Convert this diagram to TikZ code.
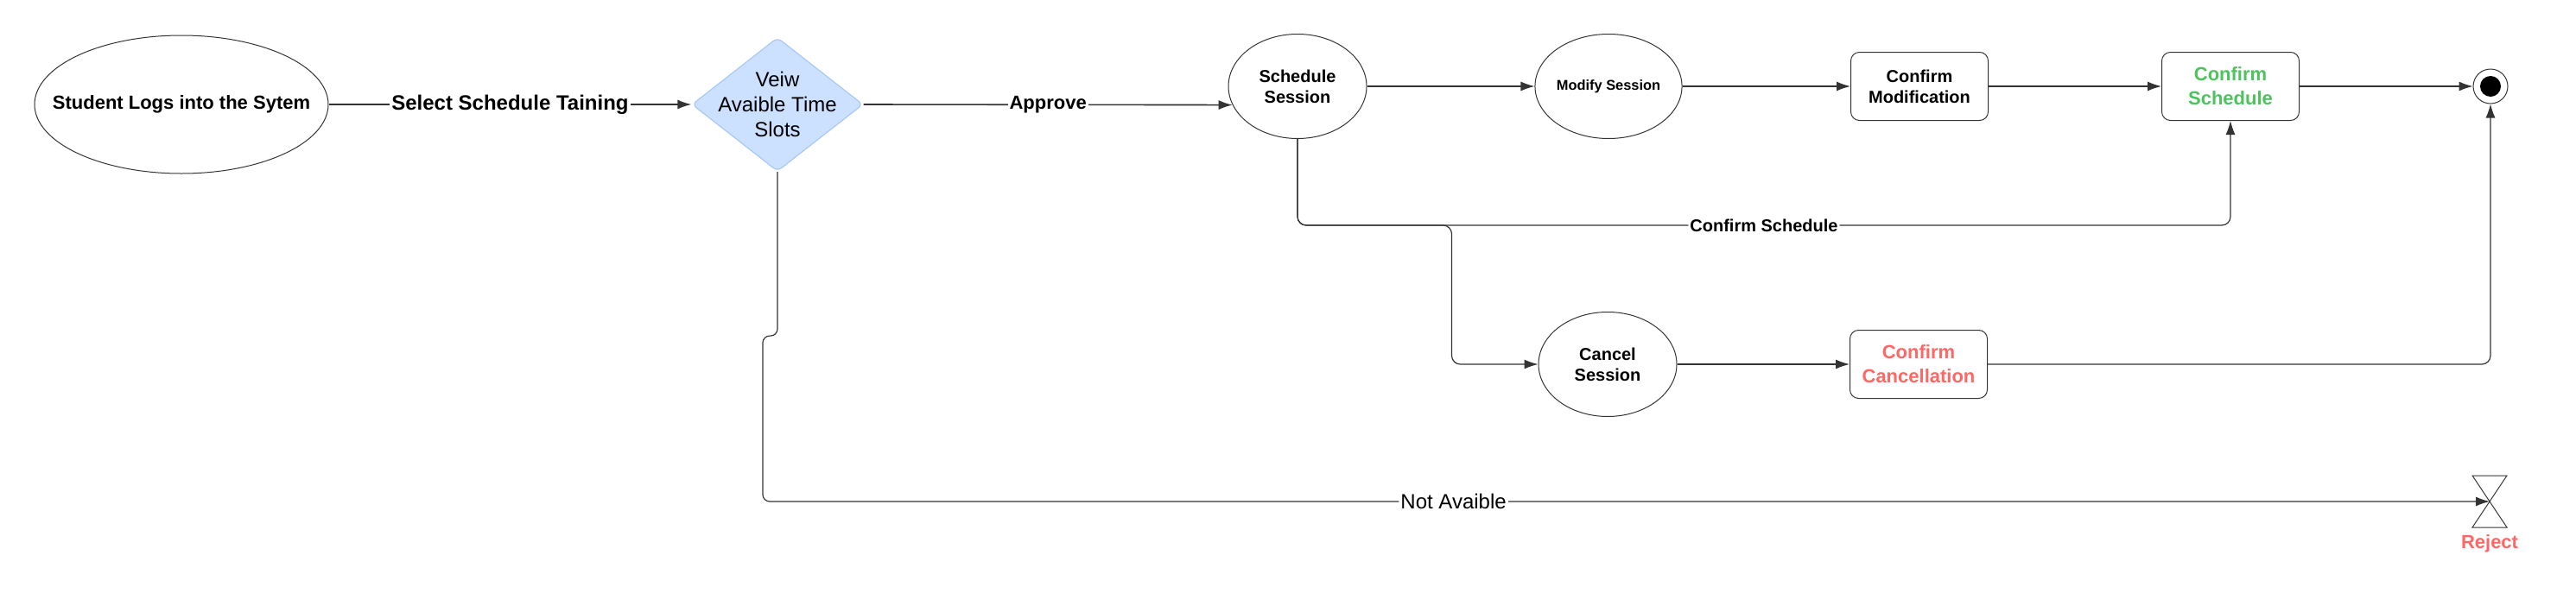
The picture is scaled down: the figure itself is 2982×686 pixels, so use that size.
\documentclass[tikz,border=0pt]{standalone}
\usepackage{fontspec}
\setmainfont{Liberation Sans}
\usetikzlibrary{shapes,arrows.meta,calc}
\definecolor{linegray}{HTML}{333333}
\definecolor{dmdfill}{HTML}{CCE0FF}
\definecolor{dmdline}{HTML}{A9C9F5}
\definecolor{okgreen}{HTML}{4CC35C}
\definecolor{nored}{HTML}{FF6666}

\begin{document}
\begin{tikzpicture}[x=0.5pt, y=-0.5pt,
	state/.style={ellipse, draw=linegray, line width=0.5pt, minimum width=80pt, minimum height=60.5pt, inner sep=0pt, align=center, font=\bfseries\fontsize{10pt}{12pt}\selectfont},
	act/.style={rectangle, rounded corners=5pt, draw=linegray, line width=0.5pt, minimum width=79.5pt, minimum height=39.5pt, inner sep=0pt, align=center, font=\bfseries\fontsize{10pt}{12pt}\selectfont},
	flow/.style={draw=linegray, -{Latex[length=8pt, width=5.5pt]}, line width=0.6pt},
	lbl/.style={fill=white, inner sep=1pt, text=black, font=\bfseries\fontsize{10pt}{12pt}\selectfont}]
	\useasboundingbox (0,0) rectangle (2982,686);
	\node[ellipse, draw=linegray, line width=0.5pt, minimum width=170pt, minimum height=80pt, inner sep=0pt, label={[font=\bfseries\fontsize{11pt}{13pt}\selectfont]center:Student Logs into the Sytem}](login) at (210,121){};
	\node[diamond, draw=dmdline, fill=dmdfill, line width=0.6pt, rounded corners=3pt, minimum width=99pt, minimum height=77.5pt, inner sep=0pt, label={[align=center, font=\fontsize{12pt}{14.5pt}\selectfont]center:Veiw\\Avaible Time\\Slots}](slots) at (900,121){};
	\node[state](sched) at (1502,100){Schedule\\Session};
	\node[state, node distance=180pt, right of=sched, font=\bfseries\fontsize{8.2pt}{10pt}\selectfont](modify){Modify Session};
	\node[act, node distance=180pt, right of=modify](confmod){Confirm\\Modification};
	\node[act, node distance=180pt, right of=confmod, text=okgreen, font=\bfseries\fontsize{11pt}{14pt}\selectfont](confsch){Confirm\\Schedule};
	\node[circle, draw=linegray, line width=0.5pt, minimum size=20pt, inner sep=0pt, node distance=150.5pt, right of=confsch](final){};
	\fill[black] (final) circle (12);
	\node[state](cancel) at (1861,422){Cancel\\Session};
	\node[act, node distance=180pt, right of=cancel, text=nored, font=\bfseries\fontsize{11pt}{14pt}\selectfont](confcan){Confirm\\Cancellation};
	\coordinate (reject) at (2882,581);
	\path[draw=linegray, line width=0.5pt] ($(reject)+(-20,-30)$) -- ++(40,0) -- ++(-40,60) -- ++(40,0) -- cycle;
	\node[text=nored, font=\bfseries\fontsize{11pt}{13pt}\selectfont](rejlbl) at (2882,630){Reject};
	\path[flow, line width=0.8pt](login)--(slots) node[midway, lbl, font=\bfseries\fontsize{12pt}{14pt}\selectfont]{Select Schedule Taining};
	\path[flow, line width=0.8pt](slots.east)--(sched.196) node[midway, lbl, font=\bfseries\fontsize{11pt}{13pt}\selectfont]{Approve};
	\path[flow](sched)--(modify);
	\path[flow](modify)--(confmod);
	\path[flow](confmod)--(confsch);
	\path[flow](confsch)--(final);
	\path[flow](cancel)--(confcan);
	\path[flow, rounded corners=5pt](sched.south)--++(0,100)-|(confsch.south) node[pos=0.25, lbl]{Confirm Schedule};
	\path[flow, rounded corners=5pt](sched.south)--++(0,100)-|($(cancel.west)+(-100,0)$)--(cancel.west);
	\path[flow, rounded corners=5pt](confcan.east)-|(final.south);
	\path[flow, rounded corners=4pt](slots.south)--++(0,190)--++(-17,0)|-(reject) node[pos=0.7, lbl, font=\fontsize{12pt}{14pt}\selectfont]{Not Avaible};
\end{tikzpicture}
\end{document}
